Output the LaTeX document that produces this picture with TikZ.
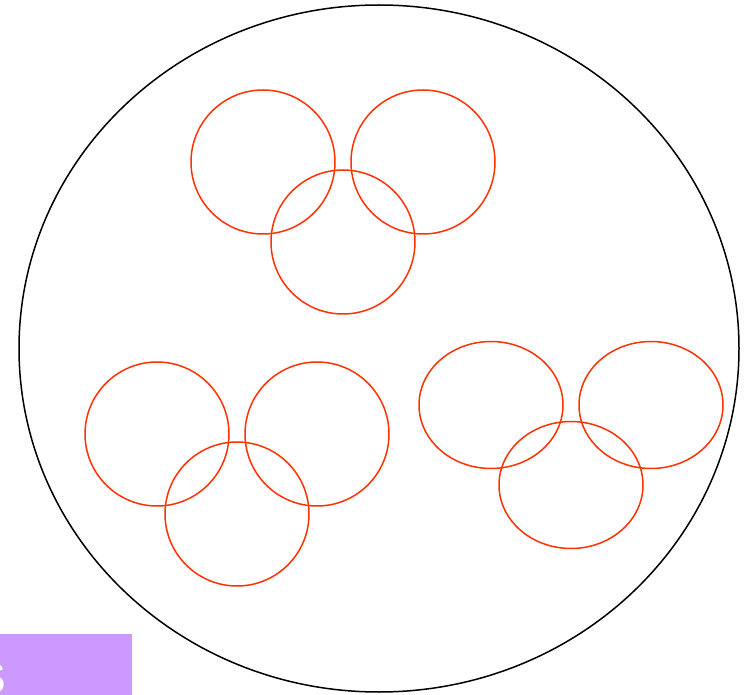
\documentclass[tikz,border=0pt]{standalone}
\usepackage{fontspec}
\setmainfont{Liberation Sans}
\definecolor{ringred}{HTML}{FF3300}
\definecolor{tagpurple}{HTML}{CC99FF}
\begin{document}
\begin{tikzpicture}[x=1pt,y=-1pt,
  ring/.style={draw=ringred,line width=1.5pt},
  outer/.style={draw=black,line width=1.5pt},
  tag/.style={fill=tagpurple,draw=none}]
\useasboundingbox (0,0) rectangle (748,695);
\clip (0,0) rectangle (748,695);
% outer ellipse
\draw[outer] (379,348.5) ellipse [x radius=360, y radius=343.5];
% top group
\draw[ring] (263,162) circle [radius=72];
\draw[ring] (423,162) circle [radius=72];
\draw[ring] (343,242) circle [radius=72];
% bottom-left group
\draw[ring] (157,434) circle [radius=72];
\draw[ring] (317,434) circle [radius=72];
\draw[ring] (237,514) circle [radius=72];
% right group
\draw[ring] (491,405) ellipse [x radius=72, y radius=63.5];
\draw[ring] (651,405) ellipse [x radius=72, y radius=63.5];
\draw[ring] (571,485) ellipse [x radius=72, y radius=63.5];
% purple tag
\fill[tag] (0,634) rectangle (132,695);
\node[anchor=base east, text=white, font=\bfseries\fontsize{44}{44}\selectfont, inner sep=0pt] (tagtext) at (6,693) {S};
\end{tikzpicture}
\end{document}
